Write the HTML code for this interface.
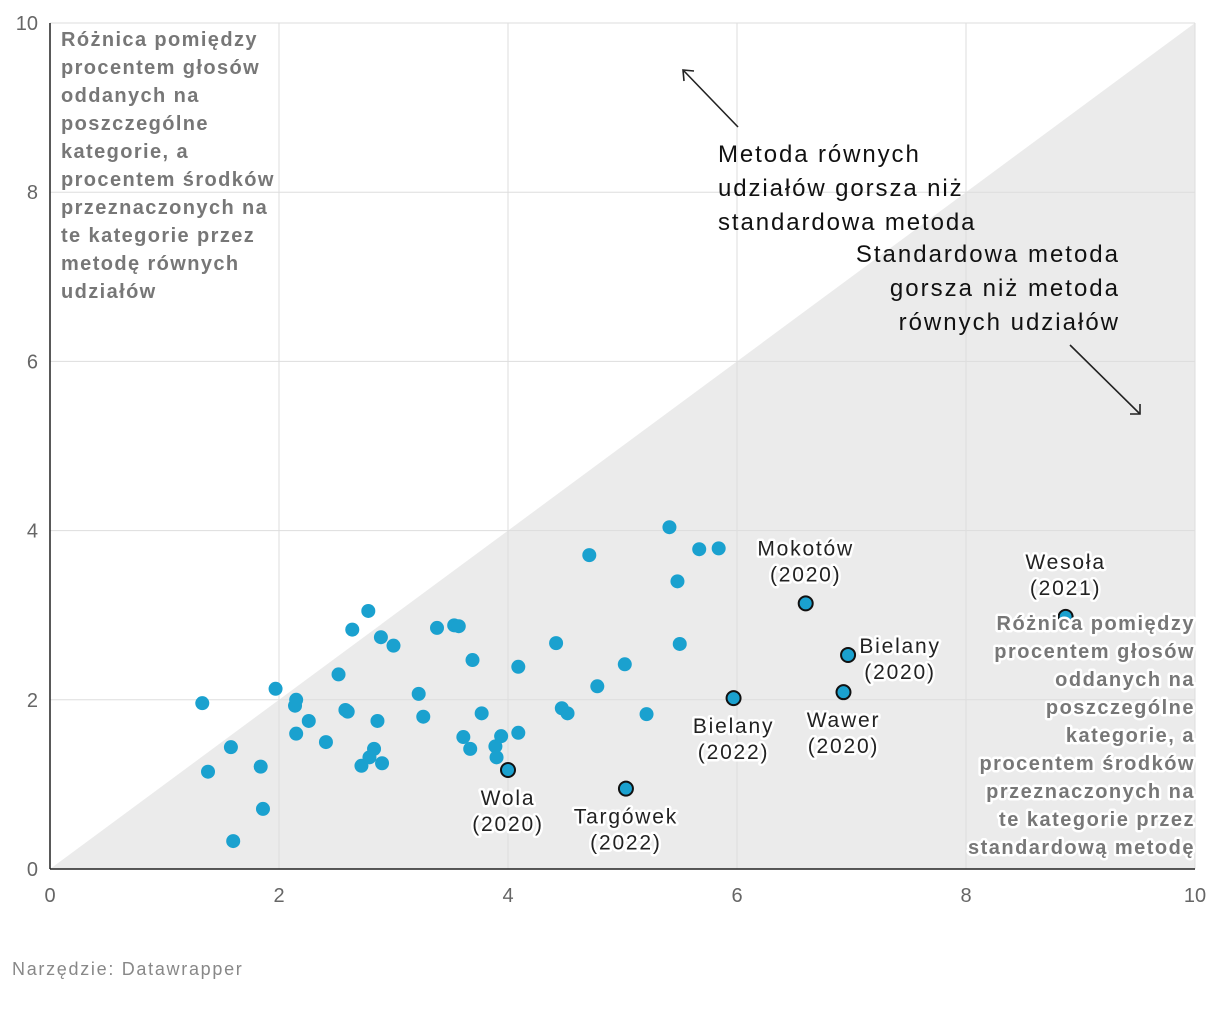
<!DOCTYPE html>
<html><head><meta charset="utf-8"><style>
body{margin:0;background:#fff;width:1220px;height:1006px;overflow:hidden;font-family:"Liberation Sans",sans-serif}
.halo{paint-order:stroke;stroke:#fff;stroke-width:5px;stroke-linejoin:round}
</style></head><body>
<svg id="chart" width="1220" height="1006" xmlns="http://www.w3.org/2000/svg">
<g id="grid"></g>
<g id="ticks"></g>
<g id="pts"></g>
<g id="lbls"></g>
<g font-size="20" font-weight="bold" fill="#777" letter-spacing="1.4">
<text x="61" y="46">Różnica pomiędzy</text><text x="61" y="74">procentem głosów</text><text x="61" y="102">oddanych na</text><text x="61" y="130">poszczególne</text><text x="61" y="158">kategorie, a</text><text x="61" y="186">procentem środków</text><text x="61" y="214">przeznaczonych na</text><text x="61" y="242">te kategorie przez</text><text x="61" y="270">metodę równych</text><text x="61" y="298">udziałów</text>
</g>
<g font-size="20" font-weight="bold" fill="#777" text-anchor="end" class="halo" letter-spacing="1.5">
<text x="1195" y="630">Różnica pomiędzy</text><text x="1195" y="658">procentem głosów</text><text x="1195" y="686">oddanych na</text><text x="1195" y="714">poszczególne</text><text x="1195" y="742">kategorie, a</text><text x="1195" y="770">procentem środków</text><text x="1195" y="798">przeznaczonych na</text><text x="1195" y="826">te kategorie przez</text><text x="1195" y="854">standardową metodę</text>
</g>
<g font-size="24" fill="#111" letter-spacing="1.9">
<text x="718" y="162">Metoda równych</text><text x="718" y="196">udziałów gorsza niż</text><text x="718" y="230">standardowa metoda</text>
</g>
<g font-size="24" fill="#111" text-anchor="end" letter-spacing="2">
<text x="1120" y="262">Standardowa metoda</text><text x="1120" y="296">gorsza niż metoda</text><text x="1120" y="330">równych udziałów</text>
</g>
<g stroke="#222" stroke-width="1.6" fill="none">
<line x1="738" y1="127" x2="684" y2="71"/><polyline points="684,81 683,70 694,71"/>
<line x1="1070" y1="345" x2="1140" y2="414"/><polyline points="1130,414 1140,414 1140,404"/>
</g>
<text x="12" y="975" font-size="18" fill="#888" letter-spacing="1.7">Narzędzie: Datawrapper</text>
</svg>
<script>
const xs=[1.33,1.38,1.58,1.60,1.84,1.86,1.97,2.14,2.15,2.15,2.26,2.41,2.52,2.58,2.60,2.64,2.78,2.72,2.79,2.83,2.86,2.89,2.90,3.00,3.22,3.26,3.38,3.53,3.57,3.61,3.67,3.69,3.77,3.89,3.90,3.94,4.09,4.09,4.42,4.47,4.52,4.71,4.78,5.02,5.21,5.41,5.48,5.50,5.67,5.84];
const ys=[1.96,1.15,1.44,0.33,1.21,0.71,2.13,1.93,2.00,1.60,1.75,1.50,2.30,1.88,1.86,2.83,3.05,1.22,1.32,1.42,1.75,2.74,1.25,2.64,2.07,1.80,2.85,2.88,2.87,1.56,1.42,2.47,1.84,1.45,1.32,1.57,1.61,2.39,2.67,1.90,1.84,3.71,2.16,2.42,1.83,4.04,3.40,2.66,3.78,3.79];
const hlNames=["Wola","Targówek","Bielany","Mokotów","Bielany","Wawer","Wesoła"];
const hlYears=["(2020)","(2022)","(2022)","(2020)","(2020)","(2020)","(2021)"];
const hlX=[4.00,5.03,5.97,6.60,6.97,6.93,8.87];
const hlY=[1.17,0.95,2.02,3.14,2.53,2.09,2.98];
const ticks=[0,2,4,6,8,10];
const sx=v=>50+v*114.5, sy=v=>869-v*84.6;
const NS="http://www.w3.org/2000/svg";
function mk(t,a,p){const e=document.createElementNS(NS,t);for(const k in a)e.setAttribute(k,a[k]);p.appendChild(e);return e;}
const g=document.getElementById('grid');
const tri=mk('polygon',{points:`${sx(0)},${sy(0)} ${sx(10)},${sy(10)} ${sx(10)},${sy(0)}`,fill:'#ebebeb'},g);


const tk=document.getElementById('ticks');
ticks.forEach(t=>{
 if(t>0){const l=mk('line',{x1:sx(t),x2:sx(t),y1:sy(0),y2:sy(10),stroke:'#ddd','stroke-width':1},g);
 
 
 const h=mk('line',{x1:sx(0),x2:sx(10),y1:sy(t),y2:sy(t),stroke:'#ddd','stroke-width':1},g);
 
 
 const yl=mk('text',{x:38,y:sy(t)+7,'font-size':20,fill:'#666','text-anchor':'end'},tk);yl.textContent=t;
 
 }
 const xl=mk('text',{x:sx(t),y:902,'font-size':20,fill:'#666','text-anchor':'middle'},tk);xl.textContent=t;
 
 
});
const y0=mk('text',{x:38,y:sy(0)+7,'font-size':20,fill:'#666','text-anchor':'end'},tk);y0.textContent='0';


const ax=mk('line',{x1:sx(0),x2:sx(10),y1:sy(0),y2:sy(0),stroke:'#222','stroke-width':1.5},g);


const ay=mk('line',{x1:sx(0),x2:sx(0),y1:sy(0),y2:sy(10),stroke:'#222','stroke-width':1.5},g);


const P=document.getElementById('pts');
xs.forEach((x,i)=>{const c=mk('circle',{cx:sx(x),cy:sy(ys[i]),r:7,fill:'#1aa1cf'},P);
 
 });
const L=document.getElementById('lbls');
const off=[[0,28],[0,28],[0,28],[0,-55],[52,-9],[0,28],[0,-55]];
hlX.forEach((x,i)=>{const cx=sx(x),cy=sy(hlY[i]);
 const c=mk('circle',{cx:cx,cy:cy,r:7,fill:'#1aa1cf',stroke:'#111','stroke-width':2},P);
 
 
 const o=off[i];
 const t=mk('text',{x:cx+o[0],y:cy+o[1]+7,'font-size':21,fill:'#222','text-anchor':'middle',class:'halo','letter-spacing':1.8},L);
 t.textContent=hlNames[i];
 
 
 const t2=mk('text',{x:cx+o[0],y:cy+o[1]+33,'font-size':21,fill:'#222','text-anchor':'middle',class:'halo','letter-spacing':1.8},L);
 t2.textContent=hlYears[i];
 
 
});
</script>
</body></html>
